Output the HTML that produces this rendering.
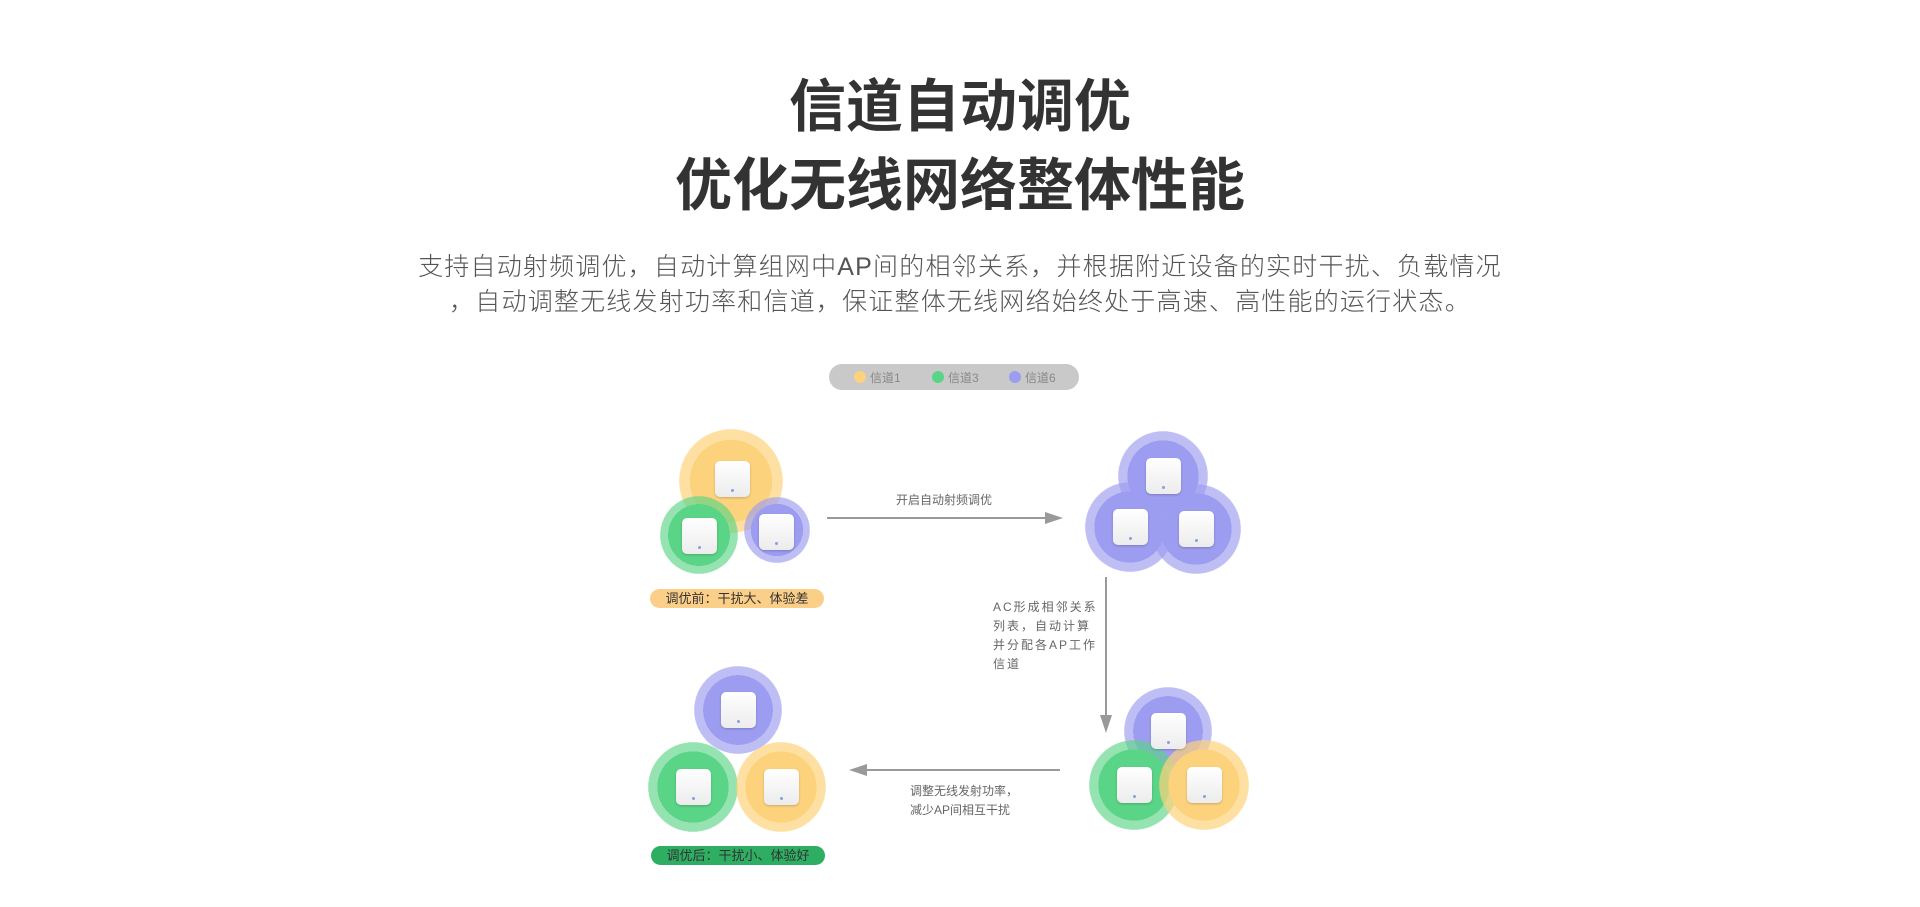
<!DOCTYPE html>
<html><head><meta charset="utf-8"><style>
body{margin:0;width:1920px;height:907px;background:#fff;position:relative;overflow:hidden;font-family:"Liberation Sans","Noto Sans CJK SC",sans-serif;}
.a{position:absolute}
.t{left:0;width:1920px;text-align:center;color:#333;font-weight:bold;font-size:57px;line-height:62px}
.s{left:0;width:1920px;text-align:center;color:#555;font-size:25px;letter-spacing:1.2px;line-height:34px;font-weight:300}
.c{position:absolute;border-radius:50%}
.y{background:radial-gradient(circle,#fdd27c 0,#fdd27c 56%,rgba(253,210,124,.7) 56%,rgba(253,210,124,.7) 70%,rgba(253,210,124,.42) 70%,rgba(253,210,124,.42) 85%,rgba(253,210,124,.18) 85%,rgba(253,210,124,.18) 100%,transparent 100%)}
.g{background:radial-gradient(circle,#5ad486 0,#5ad486 56%,rgba(90,212,134,.65) 56%,rgba(90,212,134,.65) 70%,rgba(90,212,134,.38) 70%,rgba(90,212,134,.38) 85%,rgba(90,212,134,.15) 85%,rgba(90,212,134,.15) 100%,transparent 100%)}
.p{background:radial-gradient(circle,#9c9cf0 0,#9c9cf0 56%,rgba(156,156,240,.65) 56%,rgba(156,156,240,.65) 70%,rgba(156,156,240,.38) 70%,rgba(156,156,240,.38) 85%,rgba(156,156,240,.15) 85%,rgba(156,156,240,.15) 100%,transparent 100%)}
.d{position:absolute;width:35px;height:36px;background:linear-gradient(#fff,#ececec);border-radius:5px;box-shadow:0 1px 2px rgba(0,0,0,.2)}
.d:after{content:"";position:absolute;left:16px;bottom:5px;width:3px;height:3px;border-radius:50%;background:#8aa0e0}
.lab{font-size:12px;color:#666}
.pill{position:absolute;height:19px;border-radius:10px;font-size:13px;color:#333;text-align:center;line-height:19px}
</style></head><body>
<div class="a t" style="top:76px">信道自动调优</div>
<div class="a t" style="top:155px">优化无线网络整体性能</div>
<div class="a s" style="top:250px">支持自动射频调优，自动计算组网中AP间的相邻关系，并根据附近设备的实时干扰、负载情况</div>
<div class="a s" style="top:285px">，自动调整无线发射功率和信道，保证整体无线网络始终处于高速、高性能的运行状态。</div>

<div class="a" style="left:829px;top:364px;width:250px;height:26px;border-radius:13px;background:#c9c9c9"></div>
<div class="c" style="left:854px;top:371px;width:12px;height:12px;background:#fdd27c"></div>
<div class="a lab" style="left:870px;top:369px;color:#888">信道1</div>
<div class="c" style="left:932px;top:371px;width:12px;height:12px;background:#5ad486"></div>
<div class="a lab" style="left:948px;top:369px;color:#888">信道3</div>
<div class="c" style="left:1009px;top:371px;width:12px;height:12px;background:#9c9cf0"></div>
<div class="a lab" style="left:1025px;top:369px;color:#888">信道6</div>

<!-- TL -->
<div class="c y" style="left:679px;top:429px;width:104px;height:104px"></div>
<div class="c g" style="left:660px;top:496px;width:78px;height:78px"></div>
<div class="c p" style="left:744px;top:497px;width:66px;height:66px"></div>
<div class="d" style="left:715px;top:461px"></div>
<div class="d" style="left:682px;top:518px"></div>
<div class="d" style="left:759px;top:514px"></div>
<div class="pill" style="left:650px;top:589px;width:174px;background:#fccf88">调优前：干扰大、体验差</div>

<!-- arrow 1 -->
<div class="a lab" style="left:880px;top:491px;width:128px;text-align:center">开启自动射频调优</div>
<div class="a" style="left:827px;top:517px;width:222px;height:2px;background:#999"></div>
<div class="a" style="left:1045px;top:512px;border-left:18px solid #999;border-top:6px solid transparent;border-bottom:6px solid transparent"></div>

<!-- TR -->
<div class="c p" style="left:1118px;top:431px;width:90px;height:90px"></div>
<div class="c p" style="left:1085px;top:482px;width:90px;height:90px"></div>
<div class="c p" style="left:1151px;top:484px;width:90px;height:90px"></div>
<div class="d" style="left:1146px;top:458px"></div>
<div class="d" style="left:1113px;top:509px"></div>
<div class="d" style="left:1179px;top:511px"></div>

<!-- down arrow -->
<div class="a" style="left:1105px;top:577px;width:2px;height:140px;background:#999"></div>
<div class="a" style="left:1100px;top:715px;border-top:18px solid #999;border-left:6px solid transparent;border-right:6px solid transparent"></div>
<div class="a lab" style="left:993px;top:598px;line-height:19px;letter-spacing:2px;width:105px">AC形成相邻关系列表，自动计算并分配各AP工作信道</div>

<!-- BR -->
<div class="c p" style="left:1124px;top:687px;width:88px;height:88px"></div>
<div class="c g" style="left:1089px;top:740px;width:90px;height:90px"></div>
<div class="c y" style="left:1159px;top:740px;width:90px;height:90px"></div>
<div class="d" style="left:1151px;top:713px"></div>
<div class="d" style="left:1117px;top:767px"></div>
<div class="d" style="left:1187px;top:767px"></div>

<!-- left arrow -->
<div class="a" style="left:862px;top:769px;width:198px;height:2px;background:#999"></div>
<div class="a" style="left:849px;top:764px;border-right:18px solid #999;border-top:6px solid transparent;border-bottom:6px solid transparent"></div>
<div class="a lab" style="left:910px;top:782px;line-height:19px">调整无线发射功率，<br>减少AP间相互干扰</div>

<!-- BL -->
<div class="c p" style="left:694px;top:666px;width:88px;height:88px"></div>
<div class="c g" style="left:648px;top:742px;width:90px;height:90px"></div>
<div class="c y" style="left:736px;top:742px;width:90px;height:90px"></div>
<div class="d" style="left:721px;top:692px"></div>
<div class="d" style="left:676px;top:769px"></div>
<div class="d" style="left:764px;top:769px"></div>
<div class="pill" style="left:651px;top:846px;width:174px;background:#2eae63">调优后：干扰小、体验好</div>
</body></html>
